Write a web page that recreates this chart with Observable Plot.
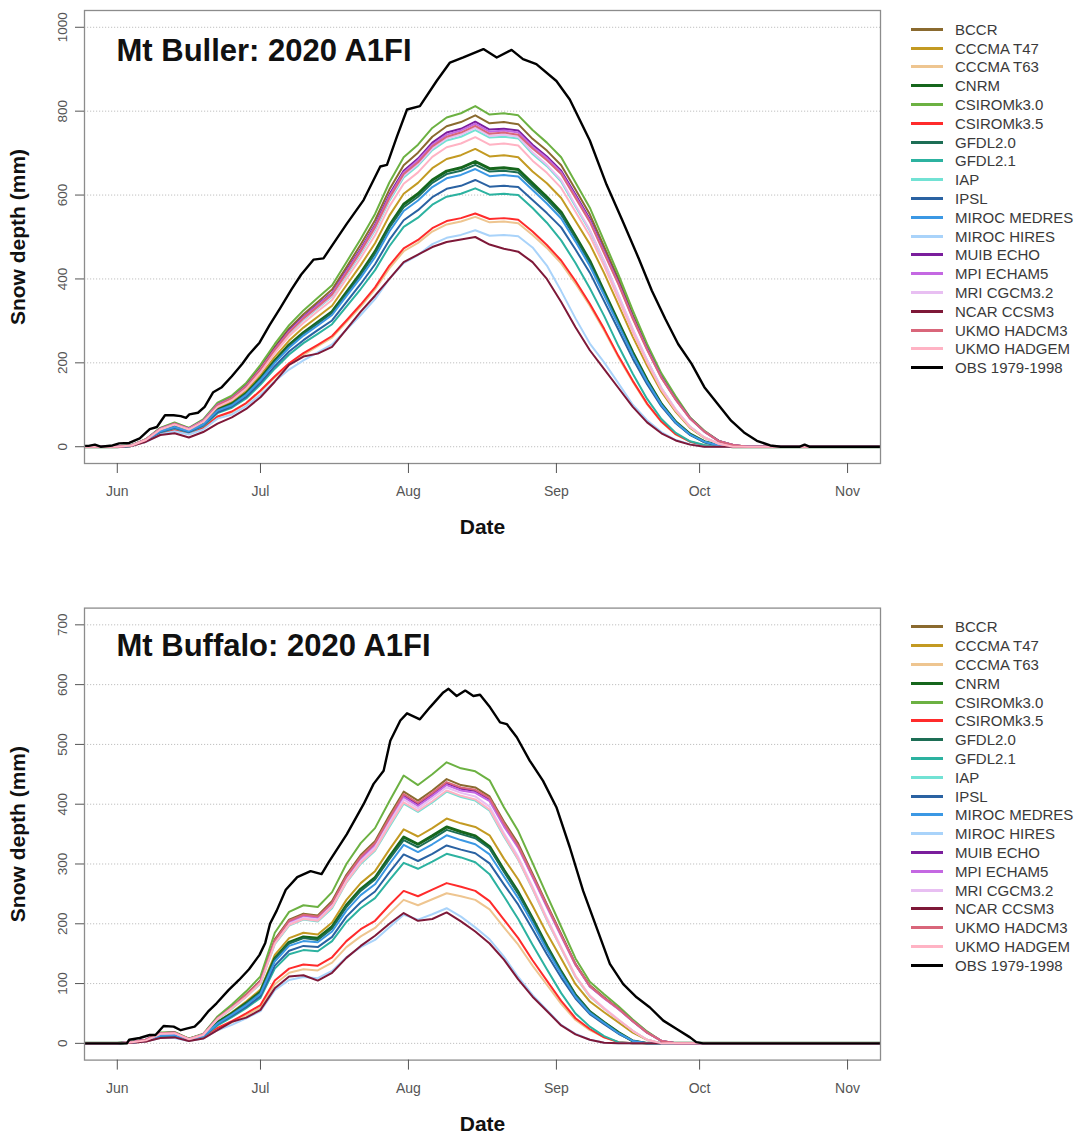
<!DOCTYPE html>
<html><head><meta charset="utf-8">
<script src="https://cdn.jsdelivr.net/npm/d3@7"></script>
<script src="https://cdn.jsdelivr.net/npm/@observablehq/plot@0.6"></script>
<style>
body{margin:0;background:#fff;font-family:"Liberation Sans",Arial,Helvetica,sans-serif;}
.panel{position:relative;width:1083px;}
.panel svg{display:block;}
.legend{position:absolute;left:911px;top:0;}
.legend .row{position:absolute;left:0;height:18.8px;display:flex;align-items:center;white-space:nowrap;}
.legend .sw{width:32px;height:3px;margin-right:12px;}
.legend .lb{font-size:15px;color:#3a3a3a;}
</style></head><body>
<div id="chart"></div>
<script>
// Days counted from 1 June
const monthTicks = [0, 30, 61, 92, 122, 153];
const monthLabels = ["Jun", "Jul", "Aug", "Sep", "Oct", "Nov"];
const dayGrid = [-8,-3,0,3,6,9,12,15,18,21,24,27,30,33,36,39,42,45,48,51,54,57,60,63,66,69,72,75,78,81,84,87,90,93,96,99,102,105,108,111,114,117,120,123,126,129,132,161];

const models = ["BCCR","CCCMA T47","CCCMA T63","CNRM","CSIROMk3.0","CSIROMk3.5","GFDL2.0","GFDL2.1","IAP","IPSL","MIROC MEDRES","MIROC HIRES","MUIB ECHO","MPI ECHAM5","MRI CGCM3.2","NCAR CCSM3","UKMO HADCM3","UKMO HADGEM"];
const obsName = "OBS 1979-1998";
const modelColors = ["#8a6a2f","#c39a22","#eec590","#16661c","#6cb142","#ff2b2b","#1d6e55","#2cb2a0","#72e2d4","#2a62a2","#3b98e4","#a9d3fa","#7a1e9c","#c468e2","#e8bff2","#7e1838","#d9667a","#ffb3c4"];
const obsColor = "#000000";

// ---- Mt Buller ----
const bullerYTicks = [0, 200, 400, 600, 800, 1000];
const buller_BCCR   = [0,0,0,3,18,44,56,44,63,102,119,148,190,238,282,316,345,375,428,482,540,613,671,701,739,764,774,790,771,774,769,734,706,671,613,554,477,400,315,238,169,115,69,37,14,4,0,0];
const buller_T47    = [0,0,0,3,16,39,51,39,57,92,107,133,170,214,253,284,310,336,385,433,485,551,603,629,664,686,695,710,692,695,690,656,628,593,538,483,414,338,262,193,131,83,45,21,7,0,0,0];
const buller_T63    = [0,0,0,2,12,30,39,30,44,71,82,103,132,165,196,219,240,260,297,334,375,425,466,486,513,530,537,548,535,537,533,505,474,437,389,336,277,213,155,101,59,29,12,3,0,0,0,0];
const buller_CNRM   = [0,0,0,3,15,38,49,38,54,88,102,127,163,205,243,272,297,322,368,414,465,527,578,603,636,657,665,680,663,665,661,628,595,559,502,443,370,297,225,159,102,59,30,12,3,0,0,0];
const buller_Mk30   = [0,0,0,3,18,45,58,45,65,105,122,152,195,245,290,325,355,385,440,495,555,630,690,720,760,785,795,812,792,795,790,755,725,690,630,570,490,410,325,245,175,120,70,38,14,4,0,0];
const buller_Mk35   = [0,0,0,2,12,31,40,31,45,72,84,104,134,168,199,223,243,264,301,339,380,432,473,493,521,538,545,556,543,545,541,513,481,444,395,341,281,216,157,103,60,30,12,3,0,0,0,0];
const buller_GFDL20 = [0,0,0,2,15,37,48,37,54,87,101,126,161,203,240,269,294,319,364,410,460,522,571,596,629,650,658,672,656,658,654,621,589,553,497,438,366,294,222,157,101,59,29,12,3,0,0,0];
const buller_GFDL21 = [0,0,0,2,14,34,44,34,49,80,93,115,148,186,220,247,269,292,334,376,421,478,524,546,577,596,603,616,601,603,600,569,534,492,438,378,312,240,174,114,66,33,13,4,0,0,0,0];
const buller_IAP    = [0,0,0,3,17,42,54,42,60,98,113,141,181,228,270,302,330,358,409,460,516,586,642,670,707,730,739,755,737,739,735,698,669,632,573,515,441,360,279,206,140,88,48,22,7,0,0,0];
const buller_IPSL   = [0,0,0,2,14,35,45,35,51,82,96,119,153,192,227,254,278,301,345,388,435,493,540,564,595,615,622,636,620,622,619,588,557,523,470,415,347,279,210,149,96,56,28,11,2,0,0,0];
const buller_MEDRES = [0,0,0,2,15,37,47,37,53,86,99,124,159,200,236,265,289,314,359,403,452,513,562,587,619,640,648,662,645,648,644,612,580,544,489,431,361,290,219,155,100,58,29,12,3,0,0,0];
const buller_HIRES  = [0,0,0,2,11,29,37,29,41,67,77,97,124,156,184,206,225,244,279,314,352,400,438,457,483,498,505,516,503,505,502,475,432,371,306,246,201,151,100,63,35,16,6,0,0,0,0,0];
const buller_MUIB   = [0,0,0,3,17,43,55,43,62,100,116,145,186,234,277,310,339,367,420,472,529,601,658,687,725,749,758,775,756,758,754,720,692,658,601,543,467,392,309,234,166,113,68,36,14,4,0,0];
const buller_MPI    = [0,0,0,3,17,43,55,43,62,100,116,144,185,232,275,308,337,365,417,469,526,597,654,683,720,744,754,770,751,754,749,715,688,654,597,539,464,389,307,232,165,112,67,36,13,4,0,0];
const buller_MRI    = [0,0,0,3,17,42,54,42,61,98,114,142,183,229,271,304,332,360,412,463,519,590,646,674,711,735,744,760,741,744,739,702,672,636,576,517,443,362,281,207,140,89,48,22,7,0,0,0];
const buller_NCAR   = [0,0,0,2,12,28,32,22,35,55,70,90,118,155,195,215,222,238,280,322,360,400,440,458,476,488,494,500,482,472,465,440,400,345,285,230,185,140,95,58,32,15,5,0,0,0,0,0];
const buller_HADCM3 = [0,0,0,3,17,42,55,42,61,99,115,143,184,231,273,306,334,363,414,466,523,593,650,678,716,739,749,765,746,749,744,711,683,650,593,536,461,387,305,231,164,112,67,36,13,4,0,0];
const buller_HADGEM = [0,0,0,3,16,41,53,41,59,95,111,138,177,223,264,295,323,350,400,450,504,573,627,654,691,714,723,738,720,723,718,682,653,617,560,503,431,352,273,201,136,86,47,22,7,0,0,0];
const buller_obsDays = [-8,-6,-4.7,-3.5,-1,0.4,2.5,4.7,6.8,8.3,10,11.8,13.3,14.4,15.1,16.9,18.3,20.1,21.9,24,26.2,27.6,29.8,31.9,34.1,36.5,38.5,41.1,43.2,44.6,48.1,51.6,55.1,56.5,58.6,60.7,63.4,66.9,69.7,72.5,76.7,79.5,82.6,85,87.8,92,94.8,99,102.5,105.8,109.2,112,114.8,117.5,120.3,123,125.8,128.6,131.3,134,136.8,139,143,144,145,161];
const buller_obsVals = [2,2,5,0,3,8,9,20,42,47,75,75,73,69,77,81,95,130,142,168,198,220,248,290,330,375,410,446,449,473,532,588,668,672,740,804,812,872,916,928,948,928,946,924,912,872,828,730,625,540,450,372,305,245,198,142,102,62,34,14,3,0,0,5,0,0];

// ---- Mt Buffalo ----
const buffaloYTicks = [0, 100, 200, 300, 400, 500, 600, 700];
const buffalo_BCCR   = [0,0,0,2,6,17,18,8,15,42,61,82,105,174,207,217,214,238,282,315,338,381,421,406,423,442,432,428,413,371,334,284,233,183,133,97,77,58,38,19,4,0,0,0,0,0,0,0];
const buffalo_T47    = [0,0,0,2,5,14,15,6,13,36,52,70,90,148,176,185,182,202,240,268,288,324,358,346,360,376,368,362,348,309,274,230,184,142,99,70,52,35,18,6,0,0,0,0,0,0,0,0];
const buffalo_T63    = [0,0,0,1,3,10,10,4,9,24,35,47,60,99,118,124,122,135,161,179,193,217,240,231,241,251,246,240,224,194,165,130,98,66,39,22,10,2,0,0,0,0,0,0,0,0,0,0];
const buffalo_CNRM   = [0,0,0,2,5,14,15,6,12,35,50,67,86,142,169,178,176,195,231,258,277,312,345,333,347,362,354,347,329,290,253,209,163,120,81,53,35,18,4,0,0,0,0,0,0,0,0,0];
const buffalo_Mk30   = [0,0,0,2,6,18,19,8,16,45,65,87,112,185,220,231,228,253,300,335,360,405,448,432,450,470,460,455,440,395,355,302,248,195,142,103,82,62,40,20,4,0,0,0,0,0,0,0];
const buffalo_Mk35   = [0,0,0,1,3,10,11,5,9,26,37,50,64,105,125,132,130,144,171,191,205,231,255,246,257,268,262,255,238,207,176,139,105,71,42,24,10,2,0,0,0,0,0,0,0,0,0,0];
const buffalo_GFDL20 = [0,0,0,2,5,14,14,6,12,34,49,66,85,141,167,176,173,192,228,255,274,308,340,328,342,357,350,343,326,287,250,207,161,119,81,53,35,18,4,0,0,0,0,0,0,0,0,0];
const buffalo_GFDL21 = [0,0,0,1,4,12,13,5,11,30,44,59,76,125,149,156,154,171,203,226,243,273,302,292,304,317,311,303,283,246,208,165,124,84,50,28,12,2,0,0,0,0,0,0,0,0,0,0];
const buffalo_IAP    = [0,0,0,2,5,16,17,7,14,40,58,78,100,166,197,207,204,226,269,300,322,362,401,387,403,421,412,406,389,346,307,258,206,159,111,78,58,39,21,6,0,0,0,0,0,0,0,0];
const buffalo_IPSL   = [0,0,0,1,4,13,13,6,11,32,46,61,79,130,155,163,161,178,212,236,254,286,316,305,317,331,324,318,301,266,232,191,149,110,75,49,32,16,4,0,0,0,0,0,0,0,0,0];
const buffalo_MEDRES = [0,0,0,1,4,13,14,6,12,33,48,64,83,137,163,171,169,187,222,248,266,300,332,320,333,348,340,333,316,279,243,201,156,116,78,51,34,17,4,0,0,0,0,0,0,0,0,0];
const buffalo_HIRES  = [0,0,0,1,3,9,9,4,8,22,31,42,54,89,106,111,109,121,144,161,173,194,215,207,216,226,212,194,174,145,111,81,56,31,16,6,1,0,0,0,0,0,0,0,0,0,0,0];
const buffalo_MUIB   = [0,0,0,2,6,17,18,7,15,42,60,80,104,171,204,214,211,234,278,310,333,375,414,400,416,435,426,422,408,366,329,280,230,181,132,95,76,58,37,18,4,0,0,0,0,0,0,0];
const buffalo_MPI    = [0,0,0,2,6,17,17,7,15,41,60,80,103,170,202,213,210,233,276,308,331,373,412,397,414,432,423,419,405,363,327,278,228,179,131,95,75,57,37,18,4,0,0,0,0,0,0,0];
const buffalo_MRI    = [0,0,0,2,5,16,17,7,15,41,59,79,102,168,200,210,207,230,273,305,328,369,408,393,410,428,419,413,396,352,312,262,210,161,113,80,59,40,21,6,0,0,0,0,0,0,0,0];
const buffalo_NCAR   = [0,0,0,1,3,9,10,4,8,22,36,43,56,92,112,114,105,118,143,163,180,200,218,205,208,219,204,187,167,140,107,78,54,30,15,6,1,0,0,0,0,0,0,0,0,0,0,0];
const buffalo_HADCM3 = [0,0,0,2,6,17,18,7,15,42,60,81,104,172,205,215,212,235,279,312,335,377,417,402,419,437,428,424,410,368,330,281,231,181,132,96,76,58,37,18,4,0,0,0,0,0,0,0];
const buffalo_HADGEM = [0,0,0,2,5,16,17,7,14,41,59,78,101,167,198,208,205,228,270,302,324,365,403,389,405,423,414,408,391,348,308,259,207,159,112,79,58,39,21,6,0,0,0,0,0,0,0,0];
const buffalo_obsDays = [-8,2,2.5,4.7,6.8,8,9.7,11.8,13.3,14.7,16.2,17.6,19,20.8,23.3,25.5,27.6,29.8,31,32,33.4,35.3,37.7,40.5,42.8,44.3,48.1,51.6,53.7,55.8,57.2,59.3,60.7,63.4,65.5,68.3,69.4,71.1,72.9,74.6,76,78.1,80.2,81.6,83.7,86.4,89.2,92,94.8,97.6,100.4,103.2,106,108.8,111.6,114.4,117.2,120,121.3,122.7,161];
const buffalo_obsVals = [0,0,6,9,14,14,29,28,22,25,28,39,53,67,89,106,124,148,168,200,222,257,278,288,283,303,350,400,434,456,506,540,552,542,562,587,593,581,590,581,583,562,537,534,512,473,439,395,328,255,194,133,99,77,60,38,24,10,2,0,0];

const bullerModels = [buller_BCCR,buller_T47,buller_T63,buller_CNRM,buller_Mk30,buller_Mk35,buller_GFDL20,buller_GFDL21,buller_IAP,buller_IPSL,buller_MEDRES,buller_HIRES,buller_MUIB,buller_MPI,buller_MRI,buller_NCAR,buller_HADCM3,buller_HADGEM];
const buffaloModels = [buffalo_BCCR,buffalo_T47,buffalo_T63,buffalo_CNRM,buffalo_Mk30,buffalo_Mk35,buffalo_GFDL20,buffalo_GFDL21,buffalo_IAP,buffalo_IPSL,buffalo_MEDRES,buffalo_HIRES,buffalo_MUIB,buffalo_MPI,buffalo_MRI,buffalo_NCAR,buffalo_HADCM3,buffalo_HADGEM];

const FONT = "Liberation Sans, Arial, Helvetica, sans-serif";

function makePanel(cfg) {
  const marks = [];
  marks.push(Plot.ruleY(cfg.yTicks, {stroke: "#c0c0c0", strokeWidth: 1, strokeDasharray: "1.2,1.8"}));
  models.forEach((name, i) => {
    const rows = dayGrid.map((d, j) => ({day: d, value: cfg.modelVals[i][j], series: name}));
    marks.push(Plot.line(rows, {x: "day", y: "value", stroke: modelColors[i], strokeWidth: name === "CNRM" ? 3 : 2, clip: true, strokeLinejoin: "round"}));
  });
  const obsRows = cfg.obsDays.map((d, j) => ({day: d, value: cfg.obsVals[j], series: obsName}));
  marks.push(Plot.line(obsRows, {x: "day", y: "value", stroke: obsColor, strokeWidth: 2.4, clip: true, strokeLinejoin: "round"}));
  marks.push(Plot.frame({stroke: "#8c8c8c", strokeWidth: 1.3}));
  marks.push(Plot.axisY({ticks: cfg.yTicks, tickFormat: d => String(d), tickSize: 9, tickRotate: -90, tickPadding: 9, fontSize: 13.5, color: "#555", label: null}));
  marks.push(Plot.axisX({ticks: monthTicks, tickFormat: d => monthLabels[monthTicks.indexOf(d)], tickSize: 10, tickPadding: 13, fontSize: 14, color: "#555", label: null}));
  marks.push(Plot.text([cfg.title], {text: d => d, frameAnchor: "top-left", dx: 32, dy: cfg.titleDy, textAnchor: "start", lineAnchor: "top", fontSize: 31, fontWeight: "bold", fill: "#111"}));
  marks.push(Plot.text(["Date"], {text: d => d, frameAnchor: "bottom", dy: 64, textAnchor: "middle", lineAnchor: "middle", fontSize: 21, fontWeight: "bold", fill: "#111"}));
  marks.push(Plot.text(["Snow depth (mm)"], {text: d => d, frameAnchor: "left", dx: -66, rotate: -90, textAnchor: "middle", lineAnchor: "middle", fontSize: 21, fontWeight: "bold", fill: "#111"}));

  const svg = Plot.plot({
    width: 895,
    height: cfg.height,
    marginLeft: 84,
    marginRight: 15,
    marginTop: cfg.marginTop,
    marginBottom: cfg.marginBottom,
    x: {domain: [-6.87, 159.9]},
    y: {domain: cfg.yDomain},
    style: {fontFamily: FONT, background: "#fff", overflow: "visible"},
    marks
  });

  const wrap = document.createElement("div");
  wrap.className = "panel";
  wrap.style.height = cfg.height + "px";
  wrap.appendChild(svg);
  const legend = document.createElement("div");
  legend.className = "legend";
  const names = models.concat([obsName]);
  const cols = modelColors.concat([obsColor]);
  names.forEach((n, i) => {
    const row = document.createElement("div");
    row.className = "row";
    row.style.top = (cfg.marginTop + 19.3 - 9.4 + i * 18.8) + "px";
    const sw = document.createElement("span");
    sw.className = "sw";
    sw.style.background = cols[i];
    const lb = document.createElement("span");
    lb.className = "lb";
    lb.textContent = n;
    row.appendChild(sw); row.appendChild(lb);
    legend.appendChild(row);
  });
  wrap.appendChild(legend);
  return wrap;
}

const root = document.getElementById("chart");
root.appendChild(makePanel({
  title: "Mt Buller: 2020 A1FI", titleDy: 28,
  yTicks: bullerYTicks, yDomain: [-40, 1040],
  modelVals: bullerModels, obsDays: buller_obsDays, obsVals: buller_obsVals,
  height: 560, marginTop: 10, marginBottom: 97
}));
root.appendChild(makePanel({
  title: "Mt Buffalo: 2020 A1FI", titleDy: 26,
  yTicks: buffaloYTicks, yDomain: [-28, 728],
  modelVals: buffaloModels, obsDays: buffalo_obsDays, obsVals: buffalo_obsVals,
  height: 577, marginTop: 47.6, marginBottom: 77.4
}));
</script>
</body></html>
